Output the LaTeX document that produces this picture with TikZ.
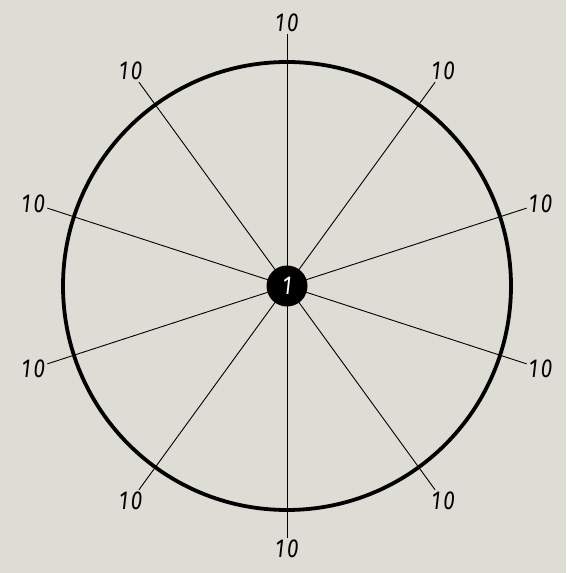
\documentclass[tikz,border=0pt]{standalone}
\usepackage{fontspec}
\usetikzlibrary{calc}
\setmainfont{Fira Sans}
\newfontfamily\lblfont[FakeStretch=0.8,LetterSpace=12]{Fira Sans Italic}
\definecolor{bg}{RGB}{221,220,213}
\begin{document}
\begin{tikzpicture}[x=1pt,y=1pt,
  spoke/.style={line width=0.9pt,black},
  rim/.style={line width=3.8pt,black},
  lbl/.style={font=\lblfont\fontsize{26}{28}\selectfont,inner sep=2pt},
  hub/.style={circle,fill=black,minimum size=41pt,inner sep=0pt,text=white,font=\lblfont\fontsize{26}{28}\selectfont}]
\fill[bg] (0,0) rectangle (566,573);
\useasboundingbox (0,0) rectangle (566,573);
\coordinate (c) at (287,287);
\draw[rim] (c) circle (224);
\foreach \a [count=\i] in {90,54,18,-18,-54,-90,-126,-162,162,126} {
  \coordinate (e\i) at ($(c)+(\a:252)$);
  \draw[spoke] (c) -- (e\i);
  \node[lbl,anchor=\a+180] (l\i) at (e\i) {10};
}
\node[hub] (h) at (c) {1};
\end{tikzpicture}
\end{document}
